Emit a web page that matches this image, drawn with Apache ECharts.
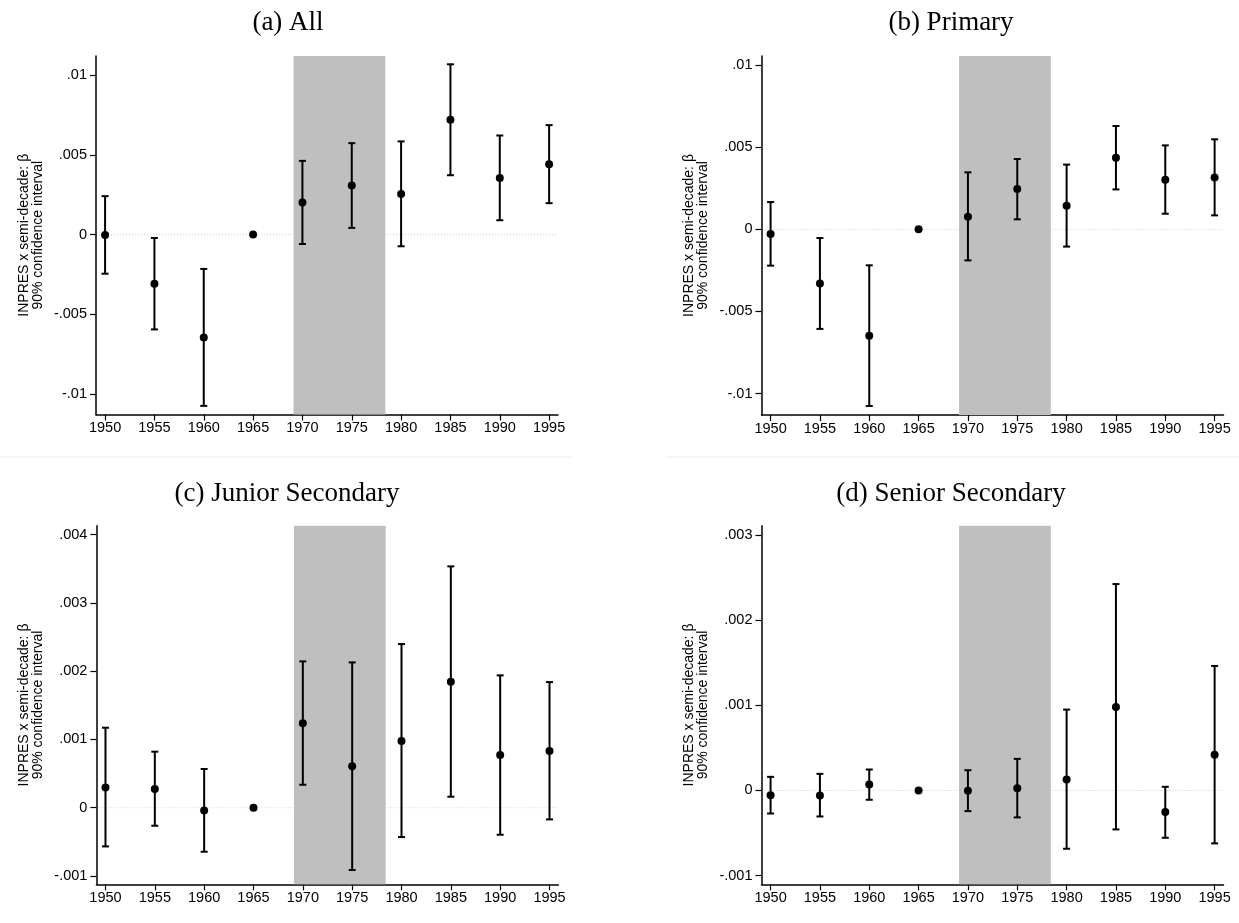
<!DOCTYPE html>
<html>
<head>
<meta charset="utf-8">
<script src="https://cdn.jsdelivr.net/npm/echarts@6/dist/echarts.min.js"></script>
<style>
  html, body { margin: 0; padding: 0; background: #fff; }
  #chart { width: 1239px; height: 923px; }
</style>
</head>
<body>
<div id="chart"></div>
<script>
// cohort years (semi-decades)
var years = [1950, 1955, 1960, 1965, 1970, 1975, 1980, 1985, 1990, 1995];
var xTicks = [1950, 1955, 1960, 1965, 1970, 1975, 1980, 1985, 1990, 1995];
// shaded window of exposure
var shadeRange = [1969.1, 1978.4];

// (a) All
var allCoef = [-0.00002, -0.00308, -0.00644, 0, 0.00201, 0.00308, 0.00255, 0.00720, 0.00354, 0.00441];
var allLo   = [-0.00245, -0.00594, -0.01073, null, -0.00059, 0.00042, -0.00073, 0.00372, 0.00090, 0.00197];
var allHi   = [0.00241, -0.00021, -0.00215, null, 0.00462, 0.00573, 0.00584, 0.01067, 0.00621, 0.00686];
var allTicks = [-0.01, -0.005, 0, 0.005, 0.01];

// (b) Primary
var priCoef = [-0.00028, -0.00329, -0.00647, 0, 0.00077, 0.00245, 0.00144, 0.00436, 0.00302, 0.00316];
var priLo   = [-0.00221, -0.00606, -0.01075, null, -0.00189, 0.00061, -0.00105, 0.00243, 0.00095, 0.00085];
var priHi   = [0.00166, -0.00053, -0.00219, null, 0.00347, 0.00428, 0.00394, 0.00629, 0.00511, 0.00548];
var priTicks = [-0.01, -0.005, 0, 0.005, 0.01];

// (c) Junior Secondary
var junCoef = [0.000298, 0.000273, -0.000039, 0, 0.001236, 0.000606, 0.000977, 0.001846, 0.000772, 0.000830];
var junLo   = [-0.000567, -0.000264, -0.000645, null, 0.000337, -0.000913, -0.000430, 0.000161, -0.000396, -0.000171];
var junHi   = [0.001172, 0.000821, 0.000567, null, 0.002144, 0.002129, 0.002398, 0.003536, 0.001939, 0.001841];
var junTicks = [-0.001, 0, 0.001, 0.002, 0.003, 0.004];

// (d) Senior Secondary
var senCoef = [-0.000055, -0.000059, 0.000070, 0, -0.000004, 0.000027, 0.000129, 0.000980, -0.000254, 0.000418];
var senLo   = [-0.000270, -0.000305, -0.000109, null, -0.000242, -0.000316, -0.000684, -0.000457, -0.000555, -0.000621];
var senHi   = [0.000160, 0.000195, 0.000246, null, 0.000238, 0.000371, 0.000949, 0.002422, 0.000043, 0.001461];
var senTicks = [-0.001, 0, 0.001, 0.002, 0.003];

var yName = 'INPRES x semi-decade: \u03b2\n90% confidence interval';

var panels = [
  { title: '(a) All', tx: 288, ty: 23, coef: allCoef, lo: allLo, hi: allHi, ticks: allTicks,
    ymin: -0.01127, ymax: 0.01119, grid: { left: 96, top: 56, width: 462, height: 358.5 } },
  { title: '(b) Primary', tx: 951, ty: 23, coef: priCoef, lo: priLo, hi: priHi, ticks: priTicks,
    ymin: -0.01130, ymax: 0.01055, grid: { left: 761.5, top: 56, width: 462, height: 359 } },
  { title: '(c) Junior Secondary', tx: 287, ty: 494, coef: junCoef, lo: junLo, hi: junHi, ticks: junTicks,
    ymin: -0.001122, ymax: 0.004132, grid: { left: 96.4, top: 525.7, width: 462, height: 358.6 } },
  { title: '(d) Senior Secondary', tx: 951, ty: 494, coef: senCoef, lo: senLo, hi: senHi, ticks: senTicks,
    ymin: -0.001101, ymax: 0.003107, grid: { left: 761.5, top: 525.7, width: 462, height: 358.6 } }
];

function fmtTick(v) {
  if (Math.abs(v) < 1e-12) return '0';
  return String(+v.toFixed(4)).replace('0.', '.');
}

var grids = [], xAxes = [], yAxes = [], series = [], graphics = [];

panels.forEach(function (p, i) {
  grids.push(p.grid);
  xAxes.push({
    type: 'value', gridIndex: i, min: 1949.08, max: 1995.9,
    axisLine: { show: true, onZero: false, lineStyle: { color: '#000', width: 1.5 } },
    axisTick: { show: true, length: 6, customValues: xTicks, lineStyle: { color: '#000', width: 1.2 } },
    axisLabel: { customValues: xTicks, formatter: function (v) { return String(Math.round(v)); },
      color: '#000', fontSize: 14.5, margin: 6,
      fontFamily: 'Liberation Sans, Arial, sans-serif' },
    splitLine: { show: false }
  });
  yAxes.push({
    type: 'value', gridIndex: i, min: p.ymin, max: p.ymax,
    axisLine: { show: true, onZero: false, lineStyle: { color: '#000', width: 1.5 } },
    axisTick: { show: true, length: 6, customValues: p.ticks, lineStyle: { color: '#000', width: 1.2 } },
    axisLabel: { customValues: p.ticks, formatter: fmtTick, color: '#000', fontSize: 14.5, margin: 9,
      fontFamily: 'Liberation Sans, Arial, sans-serif' },
    splitLine: { show: false },
    name: yName, nameLocation: 'middle', nameRotate: 90, nameGap: 51,
    nameTextStyle: { color: '#000', fontSize: 14, lineHeight: 14,
      fontFamily: 'Liberation Sans, Arial, sans-serif' }
  });

  // dotted zero line
  series.push({
    type: 'custom', xAxisIndex: i, yAxisIndex: i, z: 0, silent: true,
    data: [[1949.08, 0]],
    renderItem: function (params, api) {
      var cs = params.coordSys;
      var y = api.coord([api.value(0), api.value(1)])[1];
      return { type: 'line', shape: { x1: cs.x, y1: y, x2: cs.x + cs.width, y2: y },
        style: { stroke: '#d0d0d0', lineWidth: 1, lineDash: [1, 2] } };
    }
  });

  // shaded years
  series.push({
    type: 'custom', xAxisIndex: i, yAxisIndex: i, z: 1, silent: true,
    data: [shadeRange],
    renderItem: function (params, api) {
      var cs = params.coordSys;
      var x1 = api.coord([api.value(0), 0])[0];
      var x2 = api.coord([api.value(1), 0])[0];
      return { type: 'rect', shape: { x: x1, y: cs.y, width: x2 - x1, height: cs.height },
        style: { fill: '#bfbfbf' } };
    }
  });

  // confidence intervals
  var ci = [];
  years.forEach(function (yr, k) {
    if (p.lo[k] !== null) ci.push([yr, p.lo[k], p.hi[k]]);
  });
  series.push({
    type: 'custom', xAxisIndex: i, yAxisIndex: i, z: 2, silent: true,
    data: ci,
    renderItem: function (params, api) {
      var top = api.coord([api.value(0), api.value(2)]);
      var bot = api.coord([api.value(0), api.value(1)]);
      var w = 3.5;
      var st = { stroke: '#000', lineWidth: 2 };
      return { type: 'group', children: [
        { type: 'line', shape: { x1: top[0], y1: top[1], x2: bot[0], y2: bot[1] }, style: st },
        { type: 'line', shape: { x1: top[0] - w, y1: top[1], x2: top[0] + w, y2: top[1] }, style: st },
        { type: 'line', shape: { x1: bot[0] - w, y1: bot[1], x2: bot[0] + w, y2: bot[1] }, style: st }
      ] };
    }
  });

  // point estimates
  series.push({
    type: 'scatter', xAxisIndex: i, yAxisIndex: i, z: 3, silent: true,
    symbol: 'circle', symbolSize: 8, itemStyle: { color: '#000', opacity: 1 },
    data: years.map(function (yr, k) { return [yr, p.coef[k]]; })
  });

  graphics.push({
    type: 'text', x: p.tx, y: p.ty, silent: true,
    style: { text: p.title, fill: '#000', fontSize: 27, fontFamily: 'Liberation Serif, Times New Roman, serif',
      align: 'center', verticalAlign: 'middle' }
  });
});

// light separator rules under the top row
graphics.push({ type: 'line', shape: { x1: 0, y1: 457, x2: 572, y2: 457 }, style: { stroke: '#ececec', lineWidth: 1 } });
graphics.push({ type: 'line', shape: { x1: 666, y1: 457, x2: 1239, y2: 457 }, style: { stroke: '#ececec', lineWidth: 1 } });

var chart = echarts.init(document.getElementById('chart'), null, { renderer: 'canvas' });
chart.setOption({
  backgroundColor: '#ffffff',
  animation: false,
  grid: grids,
  xAxis: xAxes,
  yAxis: yAxes,
  series: series,
  graphic: graphics
});
</script>
</body>
</html>
